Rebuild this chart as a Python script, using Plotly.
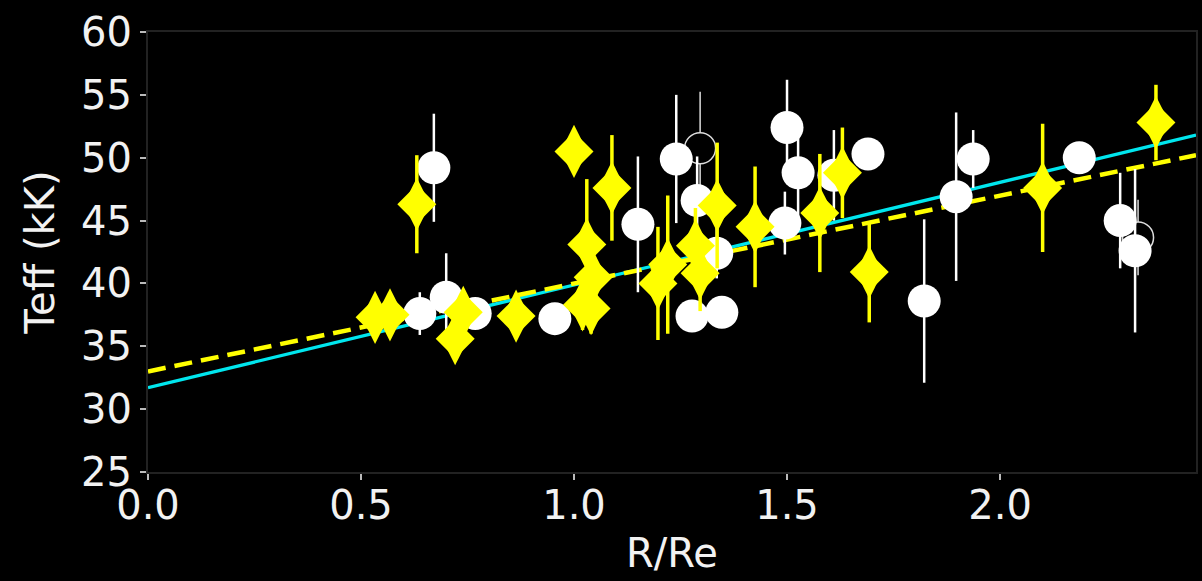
import plotly.graph_objects as go

# Filled white circles: radius ratio, Teff (kK), 1-sigma error
white_r = [0.671, 0.638, 0.700, 0.768, 0.955, 1.150, 1.240, 1.289, 1.335, 1.277,
           1.347, 1.495, 1.500, 1.526, 1.610, 1.690, 1.822, 1.897, 1.937, 2.186,
           2.282, 2.317]
white_teff = [49.2, 37.6, 38.9, 37.6, 37.2, 44.7, 49.9, 46.6, 42.4, 37.4,
              37.7, 44.8, 52.4, 48.8, 48.6, 50.3, 38.6, 46.9, 49.9, 50.0,
              45.0, 42.6]
white_err = [4.3, 1.7, 3.5, 1.0, 0.8, 5.4, 5.1, 3.5, 2.0, 0.8,
             0.8, 2.5, 3.8, 4.3, 3.6, 0.8, 6.5, 6.7, 2.3, 0.6,
             3.8, 6.5]

# Open circles
open_r = [1.296, 2.324]
open_teff = [50.75, 43.65]
open_err = [4.5, 3.0]

# Yellow diamonds
yellow_r = [0.533, 0.568, 0.631, 0.740, 0.721, 0.864, 1.000, 1.089, 1.030, 1.045,
            1.020, 1.040, 1.197, 1.220, 1.285, 1.296, 1.336, 1.425, 1.577, 1.630,
            1.693, 2.100, 2.366]
yellow_teff = [37.3, 37.5, 46.3, 37.7, 35.6, 37.4, 50.5, 47.6, 43.1, 40.5,
               38.3, 38.0, 40.0, 41.5, 43.0, 40.8, 46.2, 44.5, 45.6, 48.8,
               40.9, 47.6, 52.8]
yellow_err = [1.2, 1.2, 3.9, 1.5, 1.5, 1.5, 1.0, 4.2, 5.2, 3.0,
              2.0, 2.0, 4.5, 5.5, 3.0, 3.0, 5.0, 4.8, 4.7, 3.6,
              4.0, 5.1, 3.0]

# Linear fits, evaluated at the ends of the x range
fit_r = [0.0, 2.46]
fit_white = [31.7, 51.8]
fit_yellow = [33.0, 50.2]

FONT = "DejaVu Sans"
YELLOW = "#ffff00"
CYAN = "#00e6ee"
TEXT = "#f2f2f2"

fig = go.Figure()

fig.add_trace(go.Scatter(x=fit_r, y=fit_white, mode="lines",
                         line=dict(color=CYAN, width=3.2), hoverinfo="skip"))
fig.add_trace(go.Scatter(x=fit_r, y=fit_yellow, mode="lines",
                         line=dict(color=YELLOW, width=4.5, dash="18px,9px"),
                         hoverinfo="skip"))

fig.add_trace(go.Scatter(
    x=open_r, y=open_teff, mode="markers",
    error_y=dict(type="data", array=open_err, color="#dddddd", thickness=1.5, width=0),
    marker=dict(symbol="circle", size=31, color="black",
                line=dict(color="#dddddd", width=1.5))))

fig.add_trace(go.Scatter(
    x=white_r, y=white_teff, mode="markers",
    error_y=dict(type="data", array=white_err, color="white", thickness=2.5, width=0),
    marker=dict(symbol="circle", size=33, color="white", line=dict(width=0))))

# thin diamond built from a tall diamond plus a squat one at the centre
fig.add_trace(go.Scatter(
    x=yellow_r, y=yellow_teff, mode="markers",
    error_y=dict(type="data", array=yellow_err, color=YELLOW, thickness=3.5, width=0),
    marker=dict(symbol="diamond-tall", size=38, color=YELLOW, line=dict(width=0))))
fig.add_trace(go.Scatter(
    x=yellow_r, y=yellow_teff, mode="markers",
    marker=dict(symbol="diamond", size=30, color=YELLOW, line=dict(width=0))))

axis_common = dict(
    showgrid=False, zeroline=False, showline=True, mirror=True,
    linecolor="#222222", linewidth=2,
    ticks="outside", ticklen=6, tickwidth=1.5, tickcolor="#bbbbbb",
    tickfont=dict(family=FONT, size=40, color=TEXT),
)

fig.update_layout(
    width=1202, height=581,
    paper_bgcolor="black", plot_bgcolor="black",
    margin=dict(l=148, r=6, t=32, b=109),
    showlegend=False,
    font=dict(family=FONT, color=TEXT),
    xaxis=dict(range=[0, 2.46], tick0=0, dtick=0.5, tickformat=".1f",
               ticklabelstandoff=-9,
               title=dict(text="R/Re", font=dict(family=FONT, size=40, color=TEXT),
                          standoff=12),
               automargin=False, **axis_common),
    yaxis=dict(range=[25, 60], tick0=25, dtick=5,
               title=dict(text="Teff (kK)", font=dict(family=FONT, size=40, color=TEXT),
                          standoff=14),
               automargin=False, **axis_common),
)

fig.write_html("out.html")
